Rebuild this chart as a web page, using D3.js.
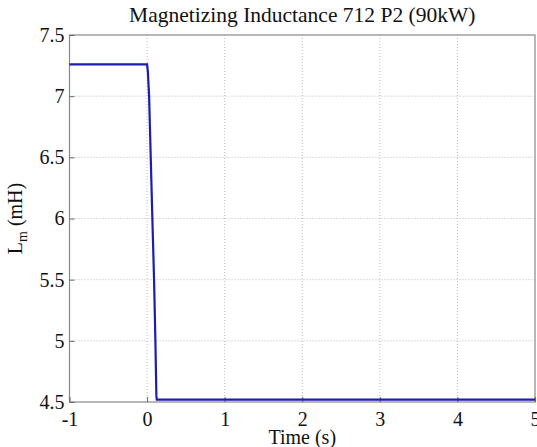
<!DOCTYPE html>
<html>
<head>
<meta charset="utf-8">
<script src="https://cdn.jsdelivr.net/npm/d3@7"></script>
<style>
  body { margin: 0; background: #fff; }
</style>
</head>
<body>
<script>
// inductance trace (time in s, Lm in mH)
const times = [-1, 0, 0.01, 0.026, 0.047, 0.068, 0.09, 0.107, 0.12, 0.125, 5];
const lm    = [7.26, 7.26, 7.2, 7.0, 6.5, 6.0, 5.5, 5.0, 4.55, 4.52, 4.52];
const xTicks = [-1, 0, 1, 2, 3, 4, 5];
const yTicks = [4.5, 5, 5.5, 6, 6.5, 7, 7.5];

const serif = "'Liberation Serif', 'Times New Roman', serif";
const W = 537, H = 447;
const margin = { top: 35, right: 2, bottom: 45, left: 69.5 };
const width = W - margin.left - margin.right;
const height = H - margin.top - margin.bottom;

const x = d3.scaleLinear().domain([-1, 5]).range([0, width]);
const y = d3.scaleLinear().domain([4.5, 7.5]).range([height, 0]);

const svg = d3.select("body").append("svg")
    .attr("width", W)
    .attr("height", H)
    .style("font-family", serif);

const g = svg.append("g")
    .attr("transform", `translate(${margin.left},${margin.top})`);

// dotted grid
g.append("g")
    .selectAll("line")
    .data(xTicks.slice(1, -1))
    .join("line")
    .attr("x1", d => x(d)).attr("x2", d => x(d))
    .attr("y1", 0).attr("y2", height)
    .attr("stroke", "#bbb")
    .attr("stroke-dasharray", "1,2");

g.append("g")
    .selectAll("line")
    .data(yTicks.slice(1, -1))
    .join("line")
    .attr("x1", 0).attr("x2", width)
    .attr("y1", d => y(d)).attr("y2", d => y(d))
    .attr("stroke", "#bbb")
    .attr("stroke-dasharray", "1,2");

// box
g.append("rect")
    .attr("width", width)
    .attr("height", height)
    .attr("fill", "none")
    .attr("stroke", "#888")
    .attr("stroke-width", 1.2);

// axes with inward ticks
const gx = g.append("g")
    .attr("transform", `translate(0,${height})`)
    .call(d3.axisBottom(x).tickValues(xTicks).tickSize(-5).tickPadding(10).tickFormat(d => String(d)))
    .attr("font-family", null)
    .attr("font-size", null);
gx.select(".domain").remove();
gx.selectAll(".tick line").attr("stroke", "#666");
gx.selectAll(".tick text")
    .style("font-family", serif)
    .style("font-size", "20px")
    .attr("fill", "#111");

const gy = g.append("g")
    .call(d3.axisLeft(y).tickValues(yTicks).tickSize(-5).tickPadding(5).tickFormat(d => String(d)))
    .attr("font-family", null)
    .attr("font-size", null);
gy.select(".domain").remove();
gy.selectAll(".tick line").attr("stroke", "#666");
gy.selectAll(".tick text")
    .style("font-family", serif)
    .style("font-size", "20px")
    .attr("fill", "#111");

// the trace
const line = d3.line()
    .x((d, i) => x(times[i]))
    .y(d => y(d));

g.append("path")
    .datum(lm)
    .attr("fill", "none")
    .attr("stroke", "#1c1cb0")
    .attr("stroke-width", 2.2)
    .attr("d", line);

// title and labels
svg.append("text")
    .attr("x", margin.left + width / 2)
    .attr("y", 22)
    .attr("text-anchor", "middle")
    .attr("font-size", 21.5)
    .attr("fill", "#111")
    .text("Magnetizing Inductance 712 P2 (90kW)");

svg.append("text")
    .attr("x", margin.left + width / 2)
    .attr("y", 444)
    .attr("text-anchor", "middle")
    .attr("font-size", 20)
    .attr("fill", "#111")
    .text("Time (s)");

const yl = svg.append("text")
    .attr("transform", `translate(22,${margin.top + height / 2}) rotate(-90)`)
    .attr("text-anchor", "middle")
    .attr("font-size", 20)
    .attr("fill", "#111");
yl.append("tspan").text("L");
yl.append("tspan").attr("font-size", 14).attr("dy", 5).text("m");
yl.append("tspan").attr("dy", -5).text(" (mH)");
</script>
</body>
</html>
